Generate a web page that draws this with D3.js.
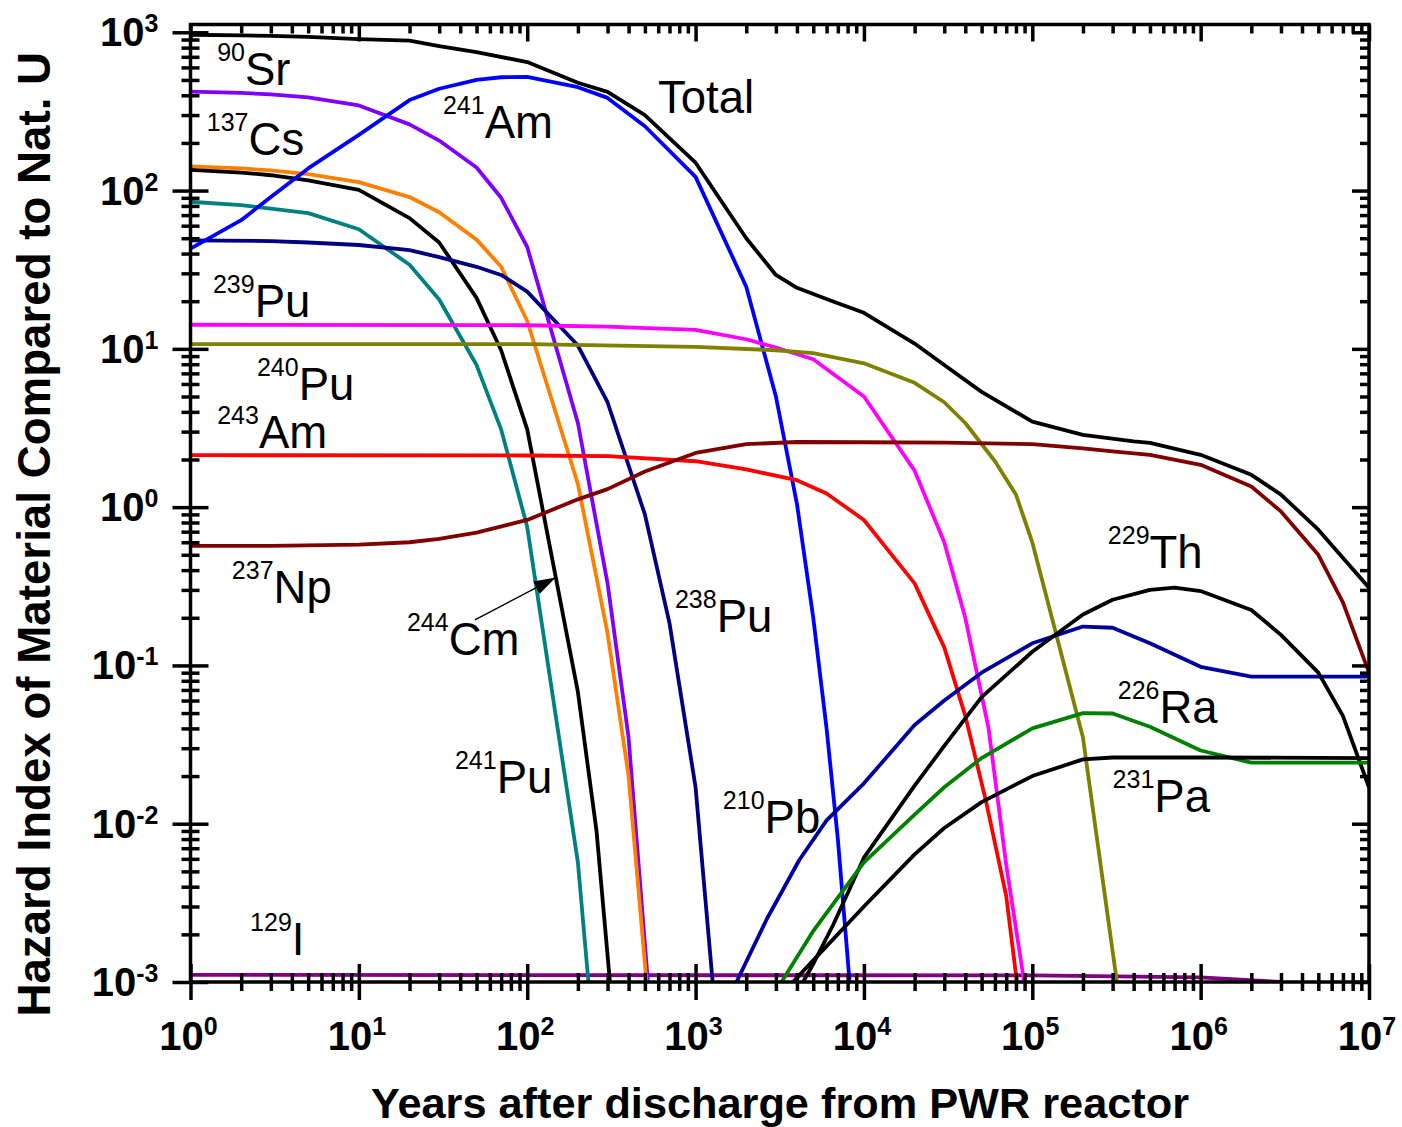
<!DOCTYPE html>
<html>
<head>
<meta charset="utf-8">
<script src="https://cdn.jsdelivr.net/npm/d3@7"></script>
<style>
body { margin: 0; background: #fff; }
svg { font-family: "Liberation Sans", Arial, sans-serif; }
.tick line { stroke: #000; stroke-width: 3.5; }
.series { fill: none; stroke-width: 3.8; stroke-linejoin: round; }
</style>
</head>
<body>
<script>
// values: [years, hazard index]
const total = [[1,965],[2,955],[3,950],[5,935],[10,905],[20,885],[30,819],[50,750],[100,648],[200,480],[300,420],[500,300],[1000,150],[2000,50],[3000,29.3],[4000,24.3],[6500,20],[10000,16.9],[20000,10.8],[30000,7.9],[50000,5.35],[100000,3.47],[200000,2.86],[400000,2.6],[500000,2.55],[1e6,2.14],[2e6,1.6],[3e6,1.2],[5e6,0.72],[1e7,0.31]]
const sr90 = [[1,422],[2,414],[3,405],[5,388],[10,345],[20,262],[30,207],[50,140],[70,90],[100,44],[200,3.4],[300,0.33],[400,0.035],[521,0.001]]
const cs137 = [[1,142],[2,138],[3,134],[5,127],[10,113],[20,91],[30,73],[50,49],[70,33],[100,15],[200,1.4],[300,0.16],[400,0.02],[511,0.001]]
const cm244 = [[1,135],[2,130],[3,125],[5,116],[10,101],[20,67],[30,47],[50,21],[70,9.8],[100,3.1],[200,0.068],[258,0.009],[310,0.001]]
const pu241 = [[1,85],[2,81],[3,77],[5,72],[10,57],[20,34],[30,20.5],[50,7.9],[70,3.1],[100,0.75],[200,0.0057],[231,0.001]]
const pu238 = [[1,48.5],[3,48],[5,47],[10,45.3],[20,42],[30,38],[50,33],[70,29.3],[100,23],[200,10.5],[300,4.6],[500,0.9],[700,0.185],[1000,0.017],[1263,0.001]]
const am241 = [[1,43],[2,65],[3,91],[5,138],[10,225],[20,373],[30,440],[50,500],[70,520],[100,522],[200,450],[300,385],[500,255],[1000,122],[2000,24.7],[3000,5],[4000,1.05],[5000,0.2],[6000,0.04],[7000,0.008],[8220,0.001]]
const pu239 = [[1,14.2],[100,14.1],[300,13.8],[1000,13.2],[2000,11.5],[3000,10.2],[5000,8.6],[10000,5],[20000,1.7],[30000,0.6],[40000,0.2],[55000,0.04],[70000,0.0055],[89500,0.001]]
const pu240 = [[1,10.7],[100,10.7],[1000,10.3],[3000,9.8],[5000,9.4],[10000,8.1],[20000,6.1],[30000,4.6],[40000,3.4],[60000,1.95],[80000,1.2],[100000,0.6],[200000,0.035],[318000,0.001]]
const am243 = [[1,2.13],[100,2.12],[300,2.1],[1000,1.95],[2000,1.73],[4000,1.48],[6000,1.22],[10000,0.83],[20000,0.33],[30000,0.13],[40000,0.048],[53000,0.014],[70000,0.0035],[81000,0.001]]
const np237 = [[1,0.57],[3,0.57],[10,0.58],[20,0.6],[30,0.63],[50,0.69],[100,0.83],[200,1.12],[300,1.3],[500,1.68],[1000,2.2],[2000,2.5],[4000,2.58],[10000,2.57],[30000,2.56],[100000,2.5],[200000,2.35],[300000,2.25],[500000,2.14],[1e6,1.85],[2e6,1.35],[3e6,0.94],[5e6,0.5],[7e6,0.25],[1e7,0.09]]
const i129 = [[1,0.00111],[100000,0.0011],[1e6,0.00107],[3e6,0.001]]
const pb210 = [[1750,0.001],[2650,0.0025],[4130,0.0059],[6000,0.0105],[10000,0.018],[20000,0.042],[30000,0.06],[50000,0.09],[100000,0.138],[200000,0.176],[300000,0.173],[500000,0.138],[1e6,0.098],[2e6,0.085],[1e7,0.085]]
const th229 = [[4350,0.001],[5000,0.0013],[6570,0.0023],[10000,0.0061],[20000,0.0174],[30000,0.031],[50000,0.063],[100000,0.122],[200000,0.21],[300000,0.26],[500000,0.3],[700000,0.31],[1e6,0.295],[2e6,0.224],[3e6,0.156],[5e6,0.09],[7e6,0.048],[1e7,0.017]]
const ra226 = [[3240,0.001],[5000,0.0021],[10000,0.0057],[20000,0.0114],[30000,0.017],[50000,0.026],[100000,0.04],[200000,0.05],[300000,0.0497],[500000,0.041],[1e6,0.029],[2e6,0.0243],[1e7,0.0243]]
const pa231 = [[3790,0.001],[5000,0.00137],[10000,0.003],[20000,0.0064],[30000,0.0094],[50000,0.0137],[100000,0.02],[200000,0.0255],[300000,0.0262],[1e6,0.0262],[1e7,0.026]]

const X_TICKS = [1, 10, 100, 1e3, 1e4, 1e5, 1e6, 1e7]
const Y_TICKS = [1e-3, 1e-2, 1e-1, 1, 10, 100, 1e3]

// label anchors in data units: mass number, symbol, years, value
const LABELS = [
    ["", "Total", 598, 309],
    ["90", "Sr", 1.44, 464],
    ["137", "Cs", 1.25, 168],
    ["241", "Am", 31.6, 215],
    ["239", "Pu", 1.36, 15.9],
    ["240", "Pu", 2.48, 4.76],
    ["243", "Am", 1.44, 2.37],
    ["237", "Np", 1.76, 0.248],
    ["244", "Cm", 19.3, 0.116],
    ["238", "Pu", 754, 0.163],
    ["241", "Pu", 37.2, 0.0157],
    ["210", "Pb", 1452, 0.00875],
    ["129", "I", 2.26, 0.00148],
    ["229", "Th", 2.81e5, 0.413],
    ["226", "Ra", 3.22e5, 0.0433],
    ["231", "Pa", 3.0e5, 0.0119]
]
const CM_ARROW = [[48.9, 0.194], [146, 0.357]]

const SERIES = [
    { data: i129, color: "#800080" },
    { data: total, color: "#000000" },
    { data: sr90, color: "#8000FF" },
    { data: cs137, color: "#FF8000" },
    { data: cm244, color: "#000000" },
    { data: pu241, color: "#008080" },
    { data: pu238, color: "#000080" },
    { data: am241, color: "#0000FF" },
    { data: pu239, color: "#FF00FF" },
    { data: pu240, color: "#808000" },
    { data: am243, color: "#FF0000" },
    { data: np237, color: "#800000" },
    { data: pb210, color: "#0000A0" },
    { data: th229, color: "#000000" },
    { data: ra226, color: "#008000" },
    { data: pa231, color: "#000000" }
]

const WIDTH = 1402
const HEIGHT = 1127
const PLOT = { left: 190.5, right: 1369, top: 24.5, bottom: 982 }

const svg = d3.select("body")
    .append("svg")
    .attr("width", WIDTH)
    .attr("height", HEIGHT)

const xScale = d3.scaleLog()
    .domain([1, 1e7])
    .range([PLOT.left, PLOT.right])

const yScale = d3.scaleLog()
    .domain([1e-3, 1.12e3])
    .range([PLOT.bottom, PLOT.top])

const minors = (majors) => majors.slice(0, -1)
    .flatMap(m => d3.range(2, 10).map(k => k * m))

const xMinor = minors(X_TICKS)
const yMinor = minors(Y_TICKS)

svg.append("defs").append("clipPath")
    .attr("id", "plot-clip")
    .append("rect")
    .attr("x", PLOT.left)
    .attr("y", PLOT.top)
    .attr("width", PLOT.right - PLOT.left)
    .attr("height", PLOT.bottom - PLOT.top)

svg.select("defs").append("marker")
    .attr("id", "arrow")
    .attr("markerUnits", "userSpaceOnUse")
    .attr("markerWidth", 22)
    .attr("markerHeight", 14)
    .attr("refX", 21)
    .attr("refY", 7)
    .attr("orient", "auto")
    .append("path")
    .attr("d", "M0,0 L22,7 L0,14 Z")
    .attr("fill", "#000")

const line = d3.line()
    .x(d => xScale(d[0]))
    .y(d => yScale(d[1]))

svg.append("g")
    .attr("clip-path", "url(#plot-clip)")
    .selectAll("path")
    .data(SERIES)
    .enter()
    .append("path")
    .attr("class", "series")
    .attr("stroke", d => d.color)
    .attr("d", d => line(d.data))

// tick marks: outside + inside on left/bottom, inside only on top/right
function ticks(axis, values, size, transform) {
    svg.append("g")
        .attr("transform", transform)
        .call(axis.tickValues(values).tickSize(size).tickFormat(""))
        .call(g => g.select(".domain").remove())
}

ticks(d3.axisLeft(yScale), Y_TICKS, 18, `translate(${PLOT.left},0)`)
ticks(d3.axisRight(yScale), Y_TICKS, 18, `translate(${PLOT.left},0)`)
ticks(d3.axisLeft(yScale), yMinor, 9, `translate(${PLOT.left},0)`)
ticks(d3.axisRight(yScale), yMinor, 9, `translate(${PLOT.left},0)`)
ticks(d3.axisLeft(yScale), Y_TICKS, 17, `translate(${PLOT.right},0)`)
ticks(d3.axisLeft(yScale), yMinor, 9, `translate(${PLOT.right},0)`)

ticks(d3.axisBottom(xScale), X_TICKS, 18, `translate(0,${PLOT.bottom})`)
ticks(d3.axisTop(xScale), X_TICKS, 18, `translate(0,${PLOT.bottom})`)
ticks(d3.axisBottom(xScale), xMinor, 9, `translate(0,${PLOT.bottom})`)
ticks(d3.axisTop(xScale), xMinor, 9, `translate(0,${PLOT.bottom})`)
ticks(d3.axisBottom(xScale), X_TICKS, 17, `translate(0,${PLOT.top})`)
ticks(d3.axisBottom(xScale), xMinor, 9, `translate(0,${PLOT.top})`)

svg.append("rect")
    .attr("x", PLOT.left)
    .attr("y", PLOT.top)
    .attr("width", PLOT.right - PLOT.left)
    .attr("height", PLOT.bottom - PLOT.top)
    .attr("fill", "none")
    .attr("stroke", "#000")
    .attr("stroke-width", 3.5)

// tick labels 10^n
const exp = v => Math.round(Math.log10(v))

const yLabels = svg.append("g")
    .selectAll("text")
    .data(Y_TICKS)
    .enter()
    .append("text")
    .attr("x", PLOT.left - 32)
    .attr("y", d => yScale(d) + 14)
    .attr("text-anchor", "end")
    .attr("font-weight", "bold")
yLabels.append("tspan").attr("font-size", 40).text("10")
yLabels.append("tspan").attr("font-size", 25).attr("dy", -14).text(d => exp(d))

const xLabels = svg.append("g")
    .selectAll("text")
    .data(X_TICKS)
    .enter()
    .append("text")
    .attr("x", d => xScale(d) - 2)
    .attr("y", PLOT.bottom + 68)
    .attr("text-anchor", "middle")
    .attr("font-weight", "bold")
xLabels.append("tspan").attr("font-size", 40).text("10")
xLabels.append("tspan").attr("font-size", 25).attr("dy", -15).text(d => exp(d))

svg.append("text")
    .attr("x", 780)
    .attr("y", 1118)
    .attr("text-anchor", "middle")
    .attr("font-weight", "bold")
    .attr("font-size", 43.3)
    .text("Years after discharge from PWR reactor")

svg.append("text")
    .attr("transform", "translate(50," + ((PLOT.top + PLOT.bottom) / 2 + 31) + ") rotate(-90)")
    .attr("text-anchor", "middle")
    .attr("font-weight", "bold")
    .attr("font-size", 45.7)
    .text("Hazard Index of Material Compared to Nat. U")

// isotope labels
const labels = svg.append("g")
    .selectAll("text")
    .data(LABELS)
    .enter()
    .append("text")
    .attr("x", d => xScale(d[2]))
    .attr("y", d => yScale(d[3]))
labels.append("tspan")
    .attr("font-size", 25)
    .attr("dy", d => d[0] ? -24 : 0)
    .text(d => d[0])
labels.append("tspan")
    .attr("font-size", 45.5)
    .attr("dy", d => d[0] ? 24 : 0)
    .text(d => d[1])

svg.append("line")
    .attr("x1", xScale(CM_ARROW[0][0]))
    .attr("y1", yScale(CM_ARROW[0][1]))
    .attr("x2", xScale(CM_ARROW[1][0]))
    .attr("y2", yScale(CM_ARROW[1][1]))
    .attr("stroke", "#000")
    .attr("stroke-width", 1.5)
    .attr("marker-end", "url(#arrow)")
</script>
</body>
</html>
